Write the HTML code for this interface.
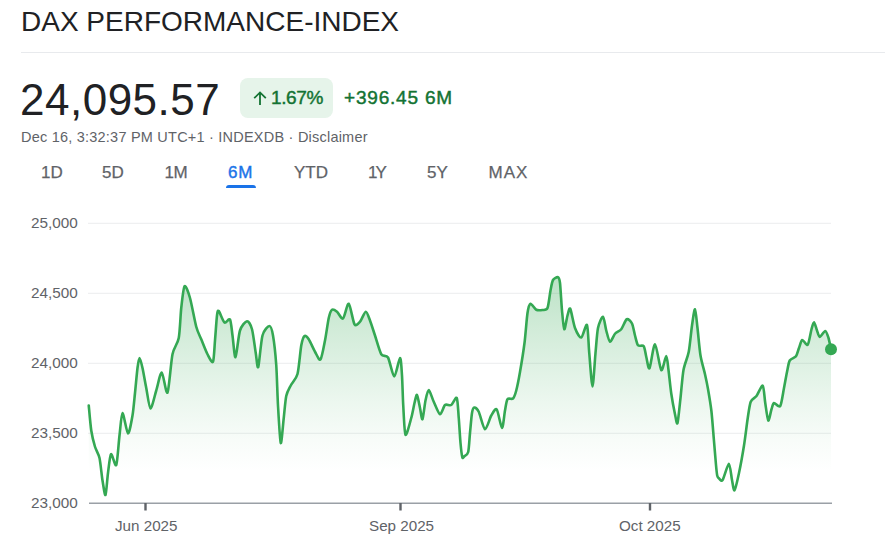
<!DOCTYPE html>
<html><head><meta charset="utf-8">
<style>
html,body{margin:0;padding:0;background:#fff;}
body{width:885px;height:548px;overflow:hidden;position:relative;font-family:"Liberation Sans",sans-serif;color:#202124;}
.abs{position:absolute;white-space:nowrap;line-height:1;}
#title{left:21px;top:8px;font-size:28px;color:#202124;}
#hr{left:21px;top:52px;width:864px;height:1px;background:#e8eaed;}
#price{left:20px;top:78px;font-size:44px;color:#202124;letter-spacing:0.5px;}
#badge{left:240px;top:78px;width:93px;height:40px;border-radius:8px;background:#e6f4ea;}
#pct{left:271px;top:88px;font-size:19px;color:#137333;-webkit-text-stroke:0.45px #137333;letter-spacing:-0.4px;}
#chg{left:344px;top:88px;font-size:19px;color:#137333;-webkit-text-stroke:0.45px #137333;letter-spacing:0.8px;}
#sub{left:21px;top:130.4px;font-size:14.5px;color:#5f6368;letter-spacing:0.22px;}
.tab{font-size:17px;color:#5f6368;top:164px;-webkit-text-stroke:0.25px #5f6368;}
#t4{color:#1a73e8;-webkit-text-stroke:0.4px #1a73e8;letter-spacing:0.8px;}
#ul{left:226px;top:185px;width:30px;height:3px;background:#1a73e8;border-radius:3px 3px 0 0;}
.yl{font-size:15.3px;color:#5f6368;left:31px;}
.xl{font-size:15.2px;color:#5f6368;top:517.5px;}
</style></head><body>
<div class="abs" id="title">DAX PERFORMANCE-INDEX</div>
<div class="abs" id="hr"></div>
<div class="abs" id="price">24,095.57</div>
<div class="abs" id="badge"></div>
<svg class="abs" id="arrow" style="left:252px;top:90px" width="16" height="16" viewBox="0 0 16 16"><path d="M8 15V2.6M2.2 8.2L8 2.4L13.8 8.2" fill="none" stroke="#137333" stroke-width="1.8"/></svg>
<div class="abs" id="pct">1.67%</div>
<div class="abs" id="chg">+396.45 6M</div>
<div class="abs" id="sub">Dec 16, 3:32:37 PM UTC+1 · INDEXDB · Disclaimer</div>
<div class="abs tab" id="t1" style="left:41px">1D</div>
<div class="abs tab" id="t2" style="left:102px">5D</div>
<div class="abs tab" id="t3" style="left:164.5px;letter-spacing:-0.5px">1M</div>
<div class="abs tab" id="t4" style="left:228px">6M</div>
<div class="abs tab" id="t5" style="left:294px">YTD</div>
<div class="abs tab" id="t6" style="left:368px;letter-spacing:-2px">1Y</div>
<div class="abs tab" id="t7" style="left:427px">5Y</div>
<div class="abs tab" id="t8" style="left:488.6px;letter-spacing:1px">MAX</div>
<div class="abs" id="ul"></div>
<div class="abs yl" id="y1" style="top:214.6px">25,000</div>
<div class="abs yl" id="y2" style="top:284.6px">24,500</div>
<div class="abs yl" id="y3" style="top:354.6px">24,000</div>
<div class="abs yl" id="y4" style="top:424.6px">23,500</div>
<div class="abs yl" id="y5" style="top:494.6px">23,000</div>
<div class="abs xl" id="x1" style="left:115px">Jun 2025</div>
<div class="abs xl" id="x2" style="left:369px">Sep 2025</div>
<div class="abs xl" id="x3" style="left:619px">Oct 2025</div>
<svg class="abs" id="chart" style="left:0;top:0" width="885" height="548" viewBox="0 0 885 548">
<defs><linearGradient id="g" x1="0" y1="262" x2="0" y2="472" gradientUnits="userSpaceOnUse"><stop offset="0" stop-color="#34a853" stop-opacity="0.36"/><stop offset="0.33" stop-color="#34a853" stop-opacity="0.22"/><stop offset="0.66" stop-color="#34a853" stop-opacity="0.095"/><stop offset="0.85" stop-color="#34a853" stop-opacity="0.035"/><stop offset="1" stop-color="#34a853" stop-opacity="0"/></linearGradient></defs>
<g stroke="#eff0f1" stroke-width="1.3"><path d="M88 223.3H831M88 293.3H831M88 363.3H831M88 433.3H831"/></g>
<path d="M88.75 405.50C89.08 408.83 90.42 425.00 91.25 430.50C92.08 436.00 93.90 443.08 95.00 446.75C96.10 450.42 98.50 453.50 99.50 458.00C100.50 462.50 101.70 475.57 102.50 480.50C103.30 485.43 104.77 496.00 105.50 495.00C106.23 494.00 107.27 478.43 108.00 473.00C108.73 467.57 109.90 455.32 111.00 454.25C112.10 453.18 115.12 467.50 116.25 465.00C117.38 462.50 118.67 442.43 119.50 435.50C120.33 428.57 121.37 413.27 122.50 413.00C123.63 412.73 126.67 433.17 128.00 433.50C129.33 433.83 131.57 420.90 132.50 415.50C133.43 410.10 134.33 399.33 135.00 393.00C135.67 386.67 136.90 372.67 137.50 368.00C138.10 363.33 138.83 358.00 139.50 358.00C140.17 358.00 141.60 364.00 142.50 368.00C143.40 372.00 145.18 382.60 146.25 388.00C147.32 393.40 149.17 408.17 150.50 408.50C151.83 408.83 154.75 395.30 156.25 390.50C157.75 385.70 160.25 372.23 161.75 372.50C163.25 372.77 166.07 394.93 167.50 392.50C168.93 390.07 171.00 361.52 172.50 354.25C174.00 346.98 177.58 344.17 178.75 338.00C179.92 331.83 180.47 314.91 181.25 308.00C182.03 301.09 183.43 287.53 184.60 286.20C185.77 284.87 188.45 292.59 190.00 298.00C191.55 303.41 194.75 321.25 196.25 326.75C197.75 332.25 199.75 335.58 201.25 339.25C202.75 342.92 205.93 351.25 207.50 354.25C209.07 357.25 212.00 363.58 213.00 361.75C214.00 359.92 214.47 346.67 215.00 340.50C215.53 334.33 216.50 319.43 217.00 315.50C217.50 311.57 217.75 310.07 218.75 311.00C219.75 311.93 223.00 321.37 224.50 322.50C226.00 323.63 228.93 317.77 230.00 319.50C231.07 321.23 231.77 330.47 232.50 335.50C233.23 340.53 234.50 357.92 235.50 357.25C236.50 356.58 238.47 335.30 240.00 330.50C241.53 325.70 245.40 321.42 247.00 321.25C248.60 321.08 250.83 325.02 252.00 329.25C253.17 333.48 254.92 347.97 255.75 353.00C256.58 358.03 257.35 369.33 258.25 367.00C259.15 364.67 261.00 340.97 262.50 335.50C264.00 330.03 268.10 326.00 269.50 326.00C270.90 326.00 272.10 330.30 273.00 335.50C273.90 340.70 275.58 355.67 276.25 365.00C276.92 374.33 277.40 395.10 278.00 405.50C278.60 415.90 279.98 441.33 280.75 443.00C281.52 444.67 283.02 424.27 283.75 418.00C284.48 411.73 285.32 400.33 286.25 396.00C287.18 391.67 289.25 388.43 290.75 385.50C292.25 382.57 296.10 379.33 297.50 374.00C298.90 368.67 300.32 350.57 301.25 345.50C302.18 340.43 303.50 336.83 304.50 336.00C305.50 335.17 307.35 337.15 308.75 339.25C310.15 341.35 313.43 349.05 315.00 351.75C316.57 354.45 319.17 361.00 320.50 359.50C321.83 358.00 323.90 346.03 325.00 340.50C326.10 334.97 327.82 322.10 328.75 318.00C329.68 313.90 330.90 310.58 332.00 309.75C333.10 308.92 335.53 310.58 337.00 311.75C338.47 312.92 341.43 319.57 343.00 318.50C344.57 317.43 347.22 302.98 348.75 303.75C350.28 304.52 353.00 321.85 354.50 324.25C356.00 326.65 358.50 323.42 360.00 321.75C361.50 320.08 364.42 311.92 365.75 311.75C367.08 311.58 368.77 317.33 370.00 320.50C371.23 323.67 373.50 331.00 375.00 335.50C376.50 340.00 379.52 351.32 381.25 354.25C382.98 357.18 386.27 354.53 388.00 357.50C389.73 360.47 392.65 376.43 394.25 376.50C395.85 376.57 398.97 358.13 400.00 358.00C401.03 357.87 401.57 369.17 402.00 375.50C402.43 381.83 402.78 397.60 403.25 405.50C403.72 413.40 404.43 433.08 405.50 434.75C406.57 436.42 410.05 422.23 411.25 418.00C412.45 413.77 413.73 406.07 414.50 403.00C415.27 399.93 416.27 394.33 417.00 395.00C417.73 395.67 419.27 404.77 420.00 408.00C420.73 411.23 421.77 420.25 422.50 419.25C423.23 418.25 424.67 404.40 425.50 400.50C426.33 396.60 427.65 389.83 428.75 390.00C429.85 390.17 432.25 398.52 433.75 401.75C435.25 404.98 438.50 413.82 440.00 414.25C441.50 414.68 443.50 406.23 445.00 405.00C446.50 403.77 449.68 405.93 451.25 405.00C452.82 404.07 455.75 396.27 456.75 398.00C457.75 399.73 458.25 412.00 458.75 418.00C459.25 424.00 460.03 437.77 460.50 443.00C460.97 448.23 461.81 455.41 462.30 457.20C462.79 458.99 463.41 457.09 464.20 456.40C464.99 455.71 467.43 455.12 468.20 452.00C468.97 448.88 469.49 438.20 470.00 433.00C470.51 427.80 471.43 416.40 472.00 413.00C472.57 409.60 473.35 407.67 474.25 407.50C475.15 407.33 477.32 408.85 478.75 411.75C480.18 414.65 483.33 428.75 485.00 429.25C486.67 429.75 489.68 418.13 491.25 415.50C492.82 412.87 495.32 407.83 496.75 409.50C498.18 411.17 500.90 427.87 502.00 428.00C503.10 428.13 504.27 414.33 505.00 410.50C505.73 406.67 506.43 400.85 507.50 399.25C508.57 397.65 511.83 399.67 513.00 398.50C514.17 397.33 515.32 394.03 516.25 390.50C517.18 386.97 518.90 378.33 520.00 372.00C521.10 365.67 523.50 350.87 524.50 343.00C525.50 335.13 526.70 318.23 527.50 313.00C528.30 307.77 529.33 304.18 530.50 303.75C531.67 303.32 534.65 308.92 536.25 309.75C537.85 310.58 541.00 310.23 542.50 310.00C544.00 309.77 546.43 310.60 547.50 308.00C548.57 305.40 549.77 294.23 550.50 290.50C551.23 286.77 552.00 281.77 553.00 280.00C554.00 278.23 557.07 276.85 558.00 277.25C558.93 277.65 559.47 278.57 560.00 283.00C560.53 287.43 561.43 304.33 562.00 310.50C562.57 316.67 563.52 328.58 564.25 329.25C564.98 329.92 566.70 318.23 567.50 315.50C568.30 312.77 569.25 307.08 570.25 308.75C571.25 310.42 573.53 324.17 575.00 328.00C576.47 331.83 579.65 337.90 581.25 337.50C582.85 337.10 585.93 322.93 587.00 325.00C588.07 327.07 588.52 344.80 589.25 353.00C589.98 361.20 591.67 386.50 592.50 386.50C593.33 386.50 594.77 360.80 595.50 353.00C596.23 345.20 597.00 332.83 598.00 328.00C599.00 323.17 601.90 316.42 603.00 316.75C604.10 317.08 605.32 327.17 606.25 330.50C607.18 333.83 608.83 341.32 610.00 341.75C611.17 342.18 613.50 335.42 615.00 333.75C616.50 332.08 619.68 331.18 621.25 329.25C622.82 327.32 625.32 320.02 626.75 319.25C628.18 318.48 630.90 321.33 632.00 323.50C633.10 325.67 634.20 332.60 635.00 335.50C635.80 338.40 636.83 343.82 638.00 345.25C639.17 346.68 642.65 344.72 643.75 346.25C644.85 347.78 645.48 353.82 646.25 356.75C647.02 359.68 648.33 369.92 649.50 368.25C650.67 366.58 653.43 344.02 655.00 344.25C656.57 344.48 659.75 368.43 661.25 370.00C662.75 371.57 665.28 356.00 666.25 356.00C667.22 356.00 667.83 365.00 668.50 370.00C669.17 375.00 670.38 387.60 671.25 393.50C672.12 399.40 674.17 410.32 675.00 414.25C675.83 418.18 676.77 425.17 677.50 423.00C678.23 420.83 679.70 405.07 680.50 398.00C681.30 390.93 682.40 376.17 683.50 370.00C684.60 363.83 687.62 357.68 688.75 351.75C689.88 345.82 691.17 331.17 692.00 325.50C692.83 319.83 694.27 308.92 695.00 309.25C695.73 309.58 696.77 321.83 697.50 328.00C698.23 334.17 699.50 349.33 700.50 355.50C701.50 361.67 704.00 369.78 705.00 374.25C706.00 378.72 707.15 384.10 708.00 389.00C708.85 393.90 710.61 404.20 711.40 411.00C712.19 417.80 713.29 432.80 713.90 440.00C714.51 447.20 715.56 460.27 716.00 465.00C716.44 469.73 716.85 473.77 717.20 475.50C717.55 477.23 717.88 477.40 718.60 478.00C719.32 478.60 721.23 481.90 722.60 480.00C723.97 478.10 727.65 463.75 728.90 463.75C730.15 463.75 731.25 476.47 732.00 480.00C732.75 483.53 733.57 491.18 734.50 490.25C735.43 489.32 737.73 478.97 739.00 473.00C740.27 467.03 742.83 452.83 744.00 445.50C745.17 438.17 746.85 423.83 747.75 418.00C748.65 412.17 749.58 404.68 750.75 401.75C751.92 398.82 754.90 398.13 756.50 396.00C758.10 393.87 761.58 384.82 762.75 385.75C763.92 386.68 764.52 398.37 765.25 403.00C765.98 407.63 767.42 419.67 768.25 420.50C769.08 421.33 770.73 411.58 771.50 409.25C772.27 406.92 772.83 403.43 774.00 403.00C775.17 402.57 778.92 408.00 780.25 406.00C781.58 404.00 783.10 392.53 784.00 388.00C784.90 383.47 786.23 375.67 787.00 372.00C787.77 368.33 788.55 362.60 789.75 360.50C790.95 358.40 794.77 357.92 796.00 356.25C797.23 354.58 798.17 350.17 799.00 348.00C799.83 345.83 801.08 340.43 802.25 340.00C803.42 339.57 806.52 346.18 807.75 344.75C808.98 343.32 810.67 332.25 811.50 329.25C812.33 326.25 813.27 322.08 814.00 322.25C814.73 322.42 816.23 328.53 817.00 330.50C817.77 332.47 818.65 336.93 819.75 337.00C820.85 337.07 824.08 330.87 825.25 331.00C826.42 331.13 827.73 335.57 828.50 338.00C829.27 340.43 830.67 347.75 831.00 349.25L831.00 503L88.75 503Z" fill="url(#g)" stroke="none"/>
<path d="M89 503.2H832" stroke="#9aa0a6" stroke-width="1.6" fill="none"/>
<path d="M145.5 503V510.5M400.5 503V510.5M650 503V510.5" stroke="#5f6368" stroke-width="2.4" fill="none"/>
<path d="M88.75 405.50C89.08 408.83 90.42 425.00 91.25 430.50C92.08 436.00 93.90 443.08 95.00 446.75C96.10 450.42 98.50 453.50 99.50 458.00C100.50 462.50 101.70 475.57 102.50 480.50C103.30 485.43 104.77 496.00 105.50 495.00C106.23 494.00 107.27 478.43 108.00 473.00C108.73 467.57 109.90 455.32 111.00 454.25C112.10 453.18 115.12 467.50 116.25 465.00C117.38 462.50 118.67 442.43 119.50 435.50C120.33 428.57 121.37 413.27 122.50 413.00C123.63 412.73 126.67 433.17 128.00 433.50C129.33 433.83 131.57 420.90 132.50 415.50C133.43 410.10 134.33 399.33 135.00 393.00C135.67 386.67 136.90 372.67 137.50 368.00C138.10 363.33 138.83 358.00 139.50 358.00C140.17 358.00 141.60 364.00 142.50 368.00C143.40 372.00 145.18 382.60 146.25 388.00C147.32 393.40 149.17 408.17 150.50 408.50C151.83 408.83 154.75 395.30 156.25 390.50C157.75 385.70 160.25 372.23 161.75 372.50C163.25 372.77 166.07 394.93 167.50 392.50C168.93 390.07 171.00 361.52 172.50 354.25C174.00 346.98 177.58 344.17 178.75 338.00C179.92 331.83 180.47 314.91 181.25 308.00C182.03 301.09 183.43 287.53 184.60 286.20C185.77 284.87 188.45 292.59 190.00 298.00C191.55 303.41 194.75 321.25 196.25 326.75C197.75 332.25 199.75 335.58 201.25 339.25C202.75 342.92 205.93 351.25 207.50 354.25C209.07 357.25 212.00 363.58 213.00 361.75C214.00 359.92 214.47 346.67 215.00 340.50C215.53 334.33 216.50 319.43 217.00 315.50C217.50 311.57 217.75 310.07 218.75 311.00C219.75 311.93 223.00 321.37 224.50 322.50C226.00 323.63 228.93 317.77 230.00 319.50C231.07 321.23 231.77 330.47 232.50 335.50C233.23 340.53 234.50 357.92 235.50 357.25C236.50 356.58 238.47 335.30 240.00 330.50C241.53 325.70 245.40 321.42 247.00 321.25C248.60 321.08 250.83 325.02 252.00 329.25C253.17 333.48 254.92 347.97 255.75 353.00C256.58 358.03 257.35 369.33 258.25 367.00C259.15 364.67 261.00 340.97 262.50 335.50C264.00 330.03 268.10 326.00 269.50 326.00C270.90 326.00 272.10 330.30 273.00 335.50C273.90 340.70 275.58 355.67 276.25 365.00C276.92 374.33 277.40 395.10 278.00 405.50C278.60 415.90 279.98 441.33 280.75 443.00C281.52 444.67 283.02 424.27 283.75 418.00C284.48 411.73 285.32 400.33 286.25 396.00C287.18 391.67 289.25 388.43 290.75 385.50C292.25 382.57 296.10 379.33 297.50 374.00C298.90 368.67 300.32 350.57 301.25 345.50C302.18 340.43 303.50 336.83 304.50 336.00C305.50 335.17 307.35 337.15 308.75 339.25C310.15 341.35 313.43 349.05 315.00 351.75C316.57 354.45 319.17 361.00 320.50 359.50C321.83 358.00 323.90 346.03 325.00 340.50C326.10 334.97 327.82 322.10 328.75 318.00C329.68 313.90 330.90 310.58 332.00 309.75C333.10 308.92 335.53 310.58 337.00 311.75C338.47 312.92 341.43 319.57 343.00 318.50C344.57 317.43 347.22 302.98 348.75 303.75C350.28 304.52 353.00 321.85 354.50 324.25C356.00 326.65 358.50 323.42 360.00 321.75C361.50 320.08 364.42 311.92 365.75 311.75C367.08 311.58 368.77 317.33 370.00 320.50C371.23 323.67 373.50 331.00 375.00 335.50C376.50 340.00 379.52 351.32 381.25 354.25C382.98 357.18 386.27 354.53 388.00 357.50C389.73 360.47 392.65 376.43 394.25 376.50C395.85 376.57 398.97 358.13 400.00 358.00C401.03 357.87 401.57 369.17 402.00 375.50C402.43 381.83 402.78 397.60 403.25 405.50C403.72 413.40 404.43 433.08 405.50 434.75C406.57 436.42 410.05 422.23 411.25 418.00C412.45 413.77 413.73 406.07 414.50 403.00C415.27 399.93 416.27 394.33 417.00 395.00C417.73 395.67 419.27 404.77 420.00 408.00C420.73 411.23 421.77 420.25 422.50 419.25C423.23 418.25 424.67 404.40 425.50 400.50C426.33 396.60 427.65 389.83 428.75 390.00C429.85 390.17 432.25 398.52 433.75 401.75C435.25 404.98 438.50 413.82 440.00 414.25C441.50 414.68 443.50 406.23 445.00 405.00C446.50 403.77 449.68 405.93 451.25 405.00C452.82 404.07 455.75 396.27 456.75 398.00C457.75 399.73 458.25 412.00 458.75 418.00C459.25 424.00 460.03 437.77 460.50 443.00C460.97 448.23 461.81 455.41 462.30 457.20C462.79 458.99 463.41 457.09 464.20 456.40C464.99 455.71 467.43 455.12 468.20 452.00C468.97 448.88 469.49 438.20 470.00 433.00C470.51 427.80 471.43 416.40 472.00 413.00C472.57 409.60 473.35 407.67 474.25 407.50C475.15 407.33 477.32 408.85 478.75 411.75C480.18 414.65 483.33 428.75 485.00 429.25C486.67 429.75 489.68 418.13 491.25 415.50C492.82 412.87 495.32 407.83 496.75 409.50C498.18 411.17 500.90 427.87 502.00 428.00C503.10 428.13 504.27 414.33 505.00 410.50C505.73 406.67 506.43 400.85 507.50 399.25C508.57 397.65 511.83 399.67 513.00 398.50C514.17 397.33 515.32 394.03 516.25 390.50C517.18 386.97 518.90 378.33 520.00 372.00C521.10 365.67 523.50 350.87 524.50 343.00C525.50 335.13 526.70 318.23 527.50 313.00C528.30 307.77 529.33 304.18 530.50 303.75C531.67 303.32 534.65 308.92 536.25 309.75C537.85 310.58 541.00 310.23 542.50 310.00C544.00 309.77 546.43 310.60 547.50 308.00C548.57 305.40 549.77 294.23 550.50 290.50C551.23 286.77 552.00 281.77 553.00 280.00C554.00 278.23 557.07 276.85 558.00 277.25C558.93 277.65 559.47 278.57 560.00 283.00C560.53 287.43 561.43 304.33 562.00 310.50C562.57 316.67 563.52 328.58 564.25 329.25C564.98 329.92 566.70 318.23 567.50 315.50C568.30 312.77 569.25 307.08 570.25 308.75C571.25 310.42 573.53 324.17 575.00 328.00C576.47 331.83 579.65 337.90 581.25 337.50C582.85 337.10 585.93 322.93 587.00 325.00C588.07 327.07 588.52 344.80 589.25 353.00C589.98 361.20 591.67 386.50 592.50 386.50C593.33 386.50 594.77 360.80 595.50 353.00C596.23 345.20 597.00 332.83 598.00 328.00C599.00 323.17 601.90 316.42 603.00 316.75C604.10 317.08 605.32 327.17 606.25 330.50C607.18 333.83 608.83 341.32 610.00 341.75C611.17 342.18 613.50 335.42 615.00 333.75C616.50 332.08 619.68 331.18 621.25 329.25C622.82 327.32 625.32 320.02 626.75 319.25C628.18 318.48 630.90 321.33 632.00 323.50C633.10 325.67 634.20 332.60 635.00 335.50C635.80 338.40 636.83 343.82 638.00 345.25C639.17 346.68 642.65 344.72 643.75 346.25C644.85 347.78 645.48 353.82 646.25 356.75C647.02 359.68 648.33 369.92 649.50 368.25C650.67 366.58 653.43 344.02 655.00 344.25C656.57 344.48 659.75 368.43 661.25 370.00C662.75 371.57 665.28 356.00 666.25 356.00C667.22 356.00 667.83 365.00 668.50 370.00C669.17 375.00 670.38 387.60 671.25 393.50C672.12 399.40 674.17 410.32 675.00 414.25C675.83 418.18 676.77 425.17 677.50 423.00C678.23 420.83 679.70 405.07 680.50 398.00C681.30 390.93 682.40 376.17 683.50 370.00C684.60 363.83 687.62 357.68 688.75 351.75C689.88 345.82 691.17 331.17 692.00 325.50C692.83 319.83 694.27 308.92 695.00 309.25C695.73 309.58 696.77 321.83 697.50 328.00C698.23 334.17 699.50 349.33 700.50 355.50C701.50 361.67 704.00 369.78 705.00 374.25C706.00 378.72 707.15 384.10 708.00 389.00C708.85 393.90 710.61 404.20 711.40 411.00C712.19 417.80 713.29 432.80 713.90 440.00C714.51 447.20 715.56 460.27 716.00 465.00C716.44 469.73 716.85 473.77 717.20 475.50C717.55 477.23 717.88 477.40 718.60 478.00C719.32 478.60 721.23 481.90 722.60 480.00C723.97 478.10 727.65 463.75 728.90 463.75C730.15 463.75 731.25 476.47 732.00 480.00C732.75 483.53 733.57 491.18 734.50 490.25C735.43 489.32 737.73 478.97 739.00 473.00C740.27 467.03 742.83 452.83 744.00 445.50C745.17 438.17 746.85 423.83 747.75 418.00C748.65 412.17 749.58 404.68 750.75 401.75C751.92 398.82 754.90 398.13 756.50 396.00C758.10 393.87 761.58 384.82 762.75 385.75C763.92 386.68 764.52 398.37 765.25 403.00C765.98 407.63 767.42 419.67 768.25 420.50C769.08 421.33 770.73 411.58 771.50 409.25C772.27 406.92 772.83 403.43 774.00 403.00C775.17 402.57 778.92 408.00 780.25 406.00C781.58 404.00 783.10 392.53 784.00 388.00C784.90 383.47 786.23 375.67 787.00 372.00C787.77 368.33 788.55 362.60 789.75 360.50C790.95 358.40 794.77 357.92 796.00 356.25C797.23 354.58 798.17 350.17 799.00 348.00C799.83 345.83 801.08 340.43 802.25 340.00C803.42 339.57 806.52 346.18 807.75 344.75C808.98 343.32 810.67 332.25 811.50 329.25C812.33 326.25 813.27 322.08 814.00 322.25C814.73 322.42 816.23 328.53 817.00 330.50C817.77 332.47 818.65 336.93 819.75 337.00C820.85 337.07 824.08 330.87 825.25 331.00C826.42 331.13 827.73 335.57 828.50 338.00C829.27 340.43 830.67 347.75 831.00 349.25" fill="none" stroke="#34a853" stroke-width="2.6" stroke-linejoin="round" stroke-linecap="round"/>
<circle cx="831" cy="349.2" r="6" fill="#34a853"/>
</svg>
</body></html>
